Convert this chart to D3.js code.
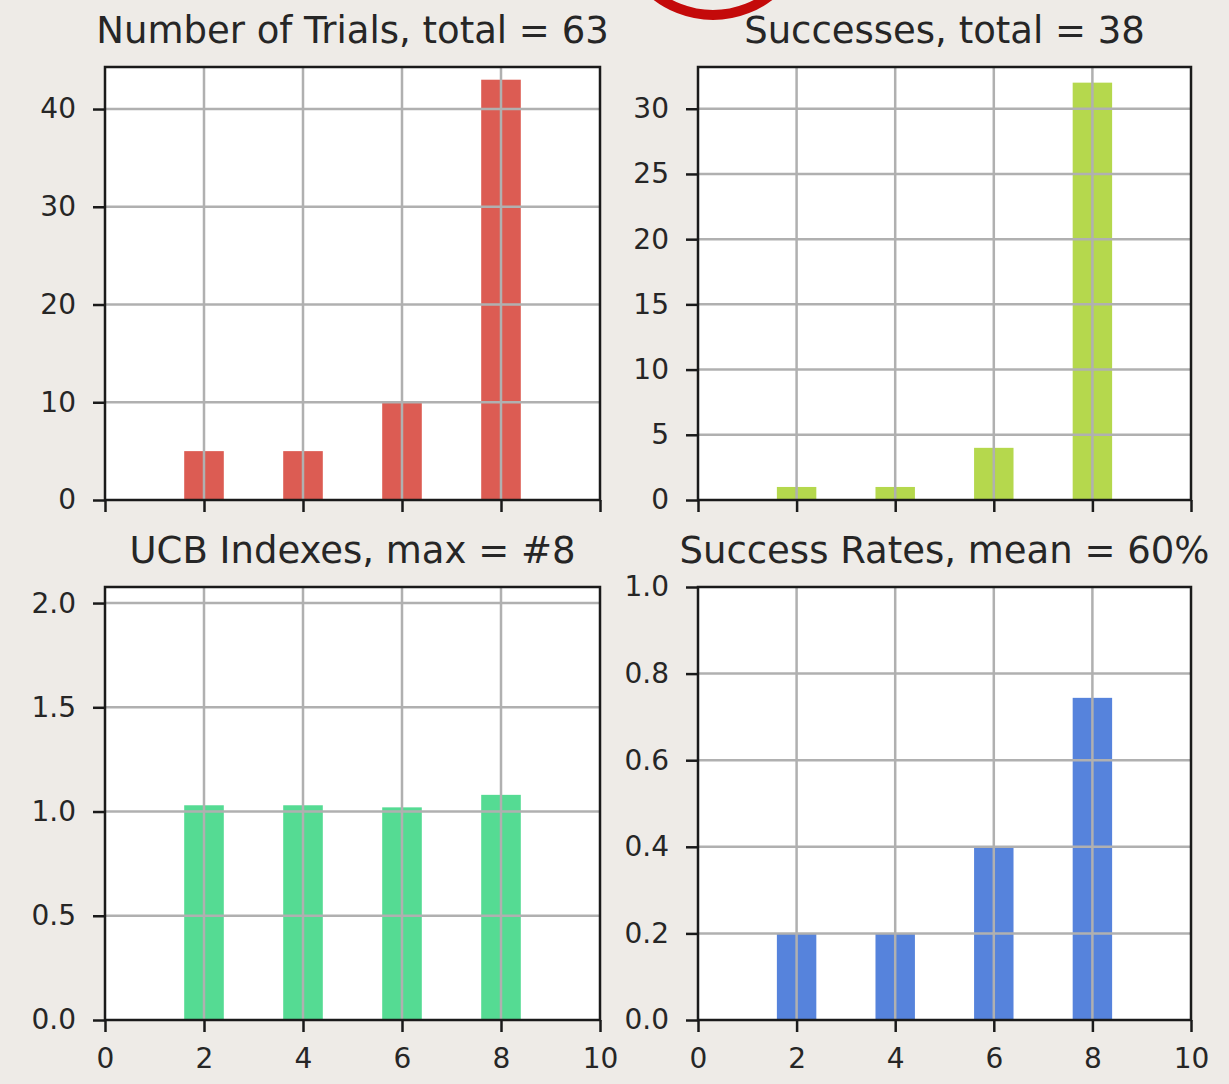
<!DOCTYPE html>
<html>
<head>
<meta charset="utf-8">
<script src="https://cdn.jsdelivr.net/npm/d3@7/dist/d3.min.js"></script>
<style>
  html, body { margin: 0; padding: 0; background: #eeebe7; }
  svg { display: block; }
</style>
</head>
<body>
<svg id="chart" width="1229" height="1084"></svg>
<script>
// ---- data ----
const arms = [2, 4, 6, 8];
const trials = [5, 5, 10, 43];
const successes = [1, 1, 4, 32];
const ucbIndexes = [1.03, 1.03, 1.02, 1.08];
const successRates = [0.2, 0.2, 0.4, 0.744];

const titles = [
  "Number of Trials, total = 63",
  "Successes, total = 38",
  "UCB Indexes, max = #8",
  "Success Rates, mean = 60%"
];
const xTicks = [0, 2, 4, 6, 8, 10];
const yTicksTrials = [0, 10, 20, 30, 40];
const yTicksSuccesses = [0, 5, 10, 15, 20, 25, 30];
const yTicksUcb = [0.0, 0.5, 1.0, 1.5, 2.0];
const yTicksRates = [0.0, 0.2, 0.4, 0.6, 0.8, 1.0];
const yMaxes = [44.3, 33.2, 2.077, 1.0];
const colors = ["#dc5c53", "#b5d84d", "#55db93", "#5683dc"];

// ---- layout ----
const svg = d3.select("#chart");
const panels = [
  { x0: 105, x1: 600, y0: 67, y1: 500, values: trials, yTicks: yTicksTrials, fmt: d3.format("d"), xLabels: false },
  { x0: 698, x1: 1191, y0: 67, y1: 500, values: successes, yTicks: yTicksSuccesses, fmt: d3.format("d"), xLabels: false },
  { x0: 105, x1: 600, y0: 587, y1: 1020, values: ucbIndexes, yTicks: yTicksUcb, fmt: d3.format(".1f"), xLabels: true },
  { x0: 698, x1: 1191, y0: 587, y1: 1020, values: successRates, yTicks: yTicksRates, fmt: d3.format(".1f"), xLabels: true }
];

const FONT = "DejaVu Sans, sans-serif";
const TEXT = "#262626";
const barWidth = 0.8;

panels.forEach((p, i) => {
  const x = d3.scaleLinear().domain([0, 10]).range([p.x0, p.x1]);
  const y = d3.scaleLinear().domain([0, yMaxes[i]]).range([p.y1, p.y0]);
  const g = svg.append("g");

  // plot background
  g.append("rect")
    .attr("x", p.x0).attr("y", p.y0)
    .attr("width", p.x1 - p.x0).attr("height", p.y1 - p.y0)
    .attr("fill", "#ffffff");

  // bars
  g.selectAll("rect.bar").data(arms.map((a, k) => ({ a, v: p.values[k] })))
    .join("rect").attr("class", "bar")
    .attr("x", d => x(d.a - barWidth / 2))
    .attr("width", d => x(d.a + barWidth / 2) - x(d.a - barWidth / 2))
    .attr("y", d => y(d.v))
    .attr("height", d => y(0) - y(d.v))
    .attr("fill", colors[i]);

  // grid (drawn above bars)
  g.selectAll("line.vg").data(xTicks.filter(t => t > 0 && t < 10))
    .join("line").attr("class", "vg")
    .attr("x1", d => x(d)).attr("x2", d => x(d))
    .attr("y1", p.y0).attr("y2", p.y1)
    .attr("stroke", "#b0b0b0").attr("stroke-width", 2.5);
  g.selectAll("line.hg").data(p.yTicks.filter(t => t > 0 && t < yMaxes[i]))
    .join("line").attr("class", "hg")
    .attr("x1", p.x0).attr("x2", p.x1)
    .attr("y1", d => y(d)).attr("y2", d => y(d))
    .attr("stroke", "#b0b0b0").attr("stroke-width", 2.5);

  // axes
  const xAxis = d3.axisBottom(x).tickValues(xTicks).tickSize(12).tickPadding(16)
    .tickFormat(p.xLabels ? d3.format("d") : () => "");
  const yAxis = d3.axisLeft(y).tickValues(p.yTicks).tickSize(12).tickPadding(17)
    .tickFormat(p.fmt);

  const gx = g.append("g").attr("transform", `translate(0,${p.y1})`).call(xAxis);
  const gy = g.append("g").attr("transform", `translate(${p.x0},0)`).call(yAxis);
  [gx, gy].forEach(a => {
    a.select(".domain").remove();
    a.selectAll(".tick line").attr("stroke", "#1a1a1a").attr("stroke-width", 2.5);
    a.selectAll(".tick text").attr("fill", TEXT)
      .style("font-family", FONT).style("font-size", "28px");
  });

  // spines
  g.append("rect")
    .attr("x", p.x0).attr("y", p.y0)
    .attr("width", p.x1 - p.x0).attr("height", p.y1 - p.y0)
    .attr("fill", "none").attr("stroke", "#1a1a1a").attr("stroke-width", 2.5);

  // title
  g.append("text")
    .attr("x", (p.x0 + p.x1) / 2).attr("y", p.y0 - 24)
    .attr("text-anchor", "middle")
    .attr("fill", TEXT)
    .style("font-family", FONT).style("font-size", "37px")
    .text(titles[i]);
});

// red ring partially visible at top
svg.append("circle")
  .attr("cx", 713).attr("cy", -78)
  .attr("r", 93)
  .attr("fill", "none")
  .attr("stroke", "#c40a0a")
  .attr("stroke-width", 10);
</script>
</body>
</html>
